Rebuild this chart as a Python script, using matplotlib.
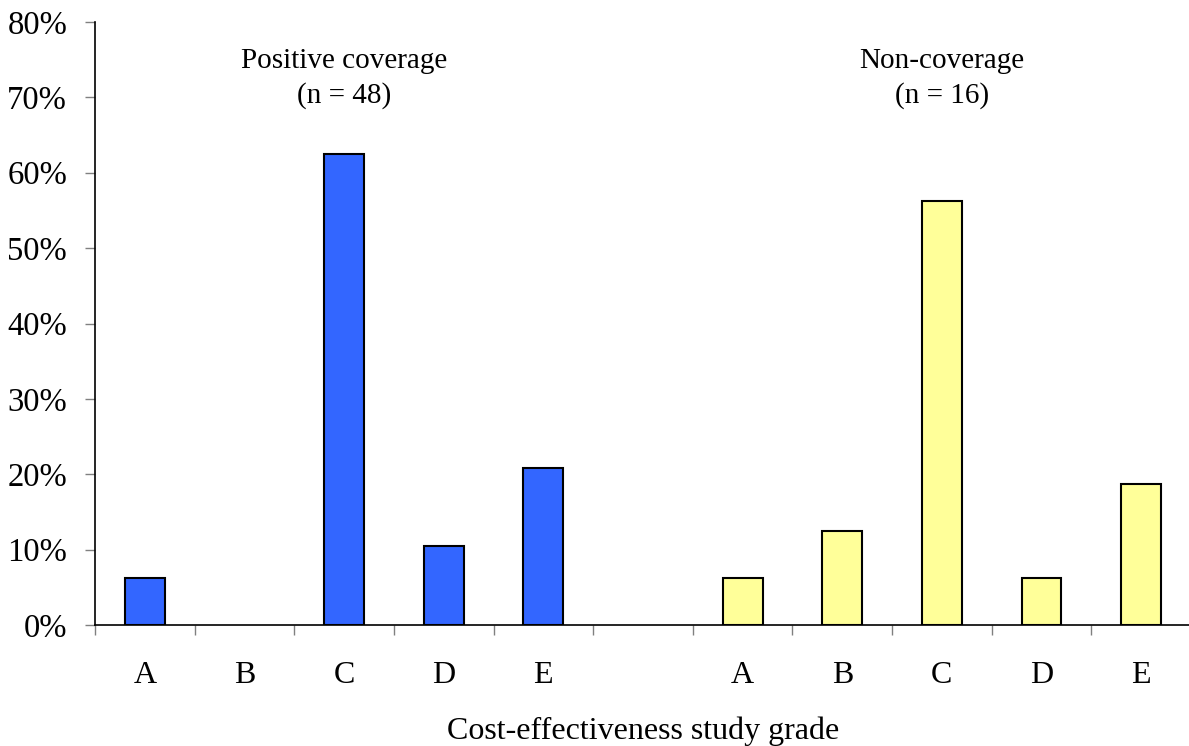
import matplotlib
matplotlib.use('Agg')
from matplotlib import pyplot as plt

plt.rcParams['font.family'] = ['Liberation Serif', 'DejaVu Serif']

grades = ['A', 'B', 'C', 'D', 'E']
positive_pct = [6.25, 0.0, 62.5, 10.42, 20.83]      # n = 48
noncoverage_pct = [6.25, 12.5, 56.25, 6.25, 18.75]  # n = 16
y_ticks = [0, 10, 20, 30, 40, 50, 60, 70, 80]

fig = plt.figure(figsize=(11.89, 7.46), dpi=100)
ax = fig.add_axes([95 / 1189, 1 - 625 / 746, 1096 / 1189, 603 / 746])

pos_x = list(range(0, 5))
non_x = list(range(6, 11))
bars1 = ax.bar(pos_x, positive_pct, width=0.4, color='#3366FF', edgecolor='black', linewidth=1.5)
bars2 = ax.bar(non_x, noncoverage_pct, width=0.4, color='#FFFF99', edgecolor='black', linewidth=1.5)
# empty categories show nothing
for p in list(bars1) + list(bars2):
    if p.get_height() == 0:
        p.set_visible(False)

ax.set_xlim(-0.5, 10.5)
ax.set_ylim(0, 80)
ax.set_yticks(y_ticks)
ax.set_yticklabels(['%d%%' % v for v in y_ticks])

# category labels centred, tick marks between categories
ax.set_xticks(pos_x + non_x)
ax.set_xticklabels(grades + grades)
ax.tick_params(axis='x', length=0, pad=26, labelsize=23)
ax.set_xticks([i + 0.5 for i in range(-1, 11)], minor=True)
ax.tick_params(axis='x', which='minor', length=7, width=1, color='gray', direction='out')
ax.tick_params(axis='y', length=7, width=1, color='gray', direction='out', pad=13, labelsize=23.5)

for side in ['top', 'right']:
    ax.spines[side].set_visible(False)
ax.spines['left'].set_linewidth(1.2)
ax.spines['bottom'].set_linewidth(1.2)

ax.text(2, 72.5, 'Positive coverage\n(n = 48)', ha='center', va='center', fontsize=21, linespacing=1.4)
ax.text(8, 72.5, 'Non-coverage\n(n = 16)', ha='center', va='center', fontsize=21, linespacing=1.4)

ax.set_xlabel('Cost-effectiveness study grade', fontsize=23, labelpad=19)

fig.savefig('out.png', dpi=100)
